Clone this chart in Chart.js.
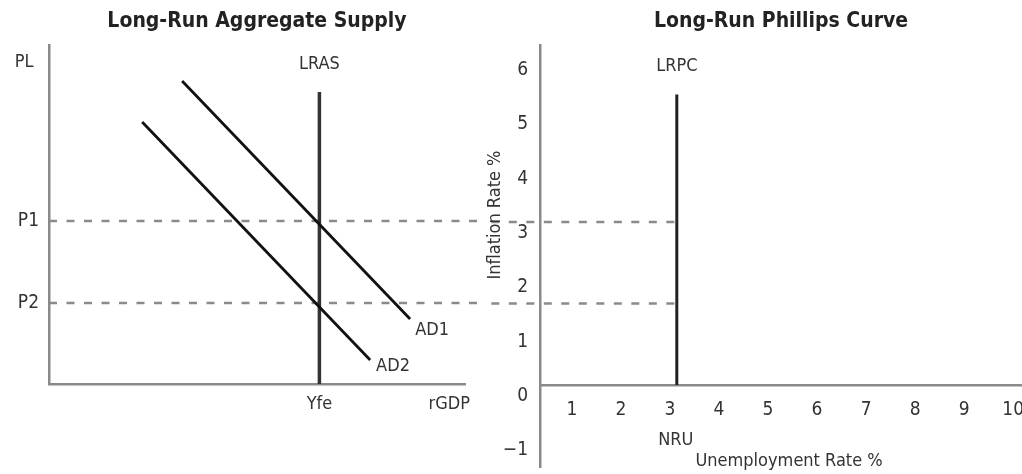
<!DOCTYPE html>
<html>
<head>
<meta charset="utf-8">
<script src="https://cdn.jsdelivr.net/npm/chart.js@4/dist/chart.umd.min.js"></script>
<style>
  body { margin: 0; background: #ffffff; }
  #wrap { position: relative; width: 1022px; height: 474px; overflow: hidden; }
  #asChart { position: absolute; left: 0; top: 0; }
  #pcChart { position: absolute; left: 484px; top: 0; }
</style>
</head>
<body>
<div id="wrap">
  <canvas id="asChart" width="484" height="474"></canvas>
  <canvas id="pcChart" width="538" height="474"></canvas>
</div>
<script>
// ---- left panel: long-run aggregate supply (unitless diagram scale 0..10)
const ad1X = [3.2, 8.68];
const ad1Y = [8.94, 1.92];
const ad2X = [2.24, 7.72];
const ad2Y = [7.73, 0.71];
const lrasX = [6.5, 6.5];
const lrasY = [0, 8.61];
const priceValues = [4.81, 2.39];
const priceLabels = ['P1', 'P2'];
const gdpTickValues = [6.5];
const gdpTickLabels = ['Yfe'];

// ---- right panel: long-run phillips curve
const unempTicks = [1, 2, 3, 4, 5, 6, 7, 8, 9, 10];
const inflTicks = [-1, 0, 1, 2, 3, 4, 5, 6];
const nru = 3.14;
const lrpcY = [0, 5.35];
const inflValues = [3, 1.5];   // matches P1, P2

const FONT = "'DejaVu Sans Condensed', 'Liberation Sans Narrow', sans-serif";
const TEXT = '#333333';
const AXIS = '#8a8a8a';
const DASH = [8, 9.5];

const pts = (xs, ys) => xs.map((x, i) => ({ x: x, y: ys[i] }));

// small plugin to write free labels at data positions
const textLabels = {
  id: 'textLabels',
  afterDatasetsDraw(chart, args, opts) {
    const ctx = chart.ctx;
    const x = chart.scales.x, y = chart.scales.y;
    ctx.save();
    ctx.fillStyle = TEXT;
    ctx.font = opts.size + 'px ' + FONT;
    ctx.textAlign = 'center';
    ctx.textBaseline = 'middle';
    opts.items.forEach(it => {
      ctx.save();
      ctx.translate(x.getPixelForValue(it.x), y.getPixelForValue(it.y));
      if (it.rotate) ctx.rotate(it.rotate);
      ctx.fillText(it.text, 0, 0);
      ctx.restore();
    });
    ctx.restore();
  }
};

function noPad(scale) {
  scale.paddingLeft = 0; scale.paddingRight = 0;
  scale.paddingTop = 0; scale.paddingBottom = 0;
}

const titleOpts = (text) => ({
  display: true,
  fullSize: false,
  text: text,
  color: '#222222',
  font: { family: FONT, size: 21, weight: 'bold', lineHeight: 1.2 },
  padding: { top: 9, bottom: 10.8 }
});

// left chart
new Chart(document.getElementById('asChart').getContext('2d'), {
  type: 'line',
  data: {
    datasets: [
      { data: pts(ad1X, ad1Y), borderColor: '#111111', borderWidth: 2.8 },
      { data: pts(ad2X, ad2Y), borderColor: '#111111', borderWidth: 2.8 },
      { data: pts(lrasX, lrasY), borderColor: '#333333', borderWidth: 3.5 },
      { data: pts([0, 11], [priceValues[0], priceValues[0]]), borderColor: AXIS, borderWidth: 2.5, borderDash: DASH, clip: false },
      { data: pts([0, 11], [priceValues[1], priceValues[1]]), borderColor: AXIS, borderWidth: 2.5, borderDash: DASH, clip: false }
    ]
  },
  options: {
    responsive: false,
    animation: false,
    devicePixelRatio: 1,
    layout: { padding: { left: 0, right: 19, top: 0, bottom: 0 } },
    elements: { point: { radius: 0 }, line: { tension: 0 } },
    scales: {
      x: {
        type: 'linear', min: 0, max: 10,
        grid: { display: false, drawTicks: false },
        border: { display: true, color: AXIS, width: 2.5 },
        afterBuildTicks: s => { s.ticks = gdpTickValues.map(v => ({ value: v })); },
        afterFit: s => { s.height = 90; noPad(s); },
        ticks: {
          padding: 10,
          color: TEXT,
          font: { family: FONT, size: 18 },
          callback: (v) => gdpTickLabels[gdpTickValues.indexOf(v)]
        }
      },
      y: {
        type: 'linear', min: 0, max: 10,
        grid: { display: false, drawTicks: false },
        border: { display: true, color: AXIS, width: 2.5 },
        afterBuildTicks: s => { s.ticks = priceValues.map(v => ({ value: v })); },
        afterFit: s => { s.width = 49; noPad(s); },
        ticks: {
          padding: 10,
          color: TEXT,
          font: { family: FONT, size: 19 },
          callback: (v) => priceLabels[priceValues.indexOf(v)]
        }
      }
    },
    plugins: {
      legend: { display: false },
      tooltip: { enabled: false },
      title: titleOpts('Long-Run Aggregate Supply'),
      textLabels: {
        size: 18,
        items: [
          { text: 'PL', x: -0.6, y: 9.5 },
          { text: 'LRAS', x: 6.5, y: 9.44 },
          { text: 'AD1', x: 9.21, y: 1.59 },
          { text: 'AD2', x: 8.27, y: 0.53 },
          { text: 'rGDP', x: 9.62, y: -0.59 }
        ]
      }
    }
  },
  plugins: [textLabels]
});

// right chart
new Chart(document.getElementById('pcChart').getContext('2d'), {
  type: 'line',
  data: {
    datasets: [
      { data: pts([nru, nru], lrpcY), borderColor: '#222222', borderWidth: 3 },
      { data: pts([-1, nru], [inflValues[0], inflValues[0]]), borderColor: AXIS, borderWidth: 2.5, borderDash: DASH, clip: false },
      { data: pts([-1, nru], [inflValues[1], inflValues[1]]), borderColor: AXIS, borderWidth: 2.5, borderDash: DASH, clip: false }
    ]
  },
  options: {
    responsive: false,
    animation: false,
    devicePixelRatio: 1,
    layout: { padding: { left: 0, right: 0, top: 0, bottom: 7 } },
    elements: { point: { radius: 0 }, line: { tension: 0 } },
    scales: {
      x: {
        type: 'linear', min: 0.35, max: 10.18,
        position: { y: 0 },
        grid: { display: false, drawTicks: false },
        border: { display: true, color: AXIS, width: 2.5 },
        afterBuildTicks: s => { s.ticks = unempTicks.map(v => ({ value: v })); },
        afterFit: noPad,
        ticks: { padding: 14, color: TEXT, font: { family: FONT, size: 19 } }
      },
      y: {
        type: 'linear', min: -1.51, max: 6.26,
        grid: { display: false, drawTicks: false },
        border: { display: true, color: AXIS, width: 2.5 },
        afterBuildTicks: s => { s.ticks = inflTicks.map(v => ({ value: v })); },
        afterFit: s => { s.width = 56; noPad(s); },
        ticks: {
          padding: 12,
          labelOffset: 11,
          color: TEXT,
          font: { family: FONT, size: 19 },
          callback: (v) => v < 0 ? '\u2212' + Math.abs(v) : String(v)
        }
      }
    },
    plugins: {
      legend: { display: false },
      tooltip: { enabled: false },
      title: titleOpts('Long-Run Phillips Curve'),
      textLabels: {
        size: 18,
        items: [
          { text: 'LRPC', x: nru, y: 5.87 },
          { text: 'NRU', x: 3.12, y: -1.01 },
          { text: 'Unemployment Rate %', x: 5.43, y: -1.40 },
          { text: 'Inflation Rate %', x: -0.57, y: 3.13, rotate: -Math.PI / 2 }
        ]
      }
    }
  },
  plugins: [textLabels]
});
</script>
</body>
</html>
